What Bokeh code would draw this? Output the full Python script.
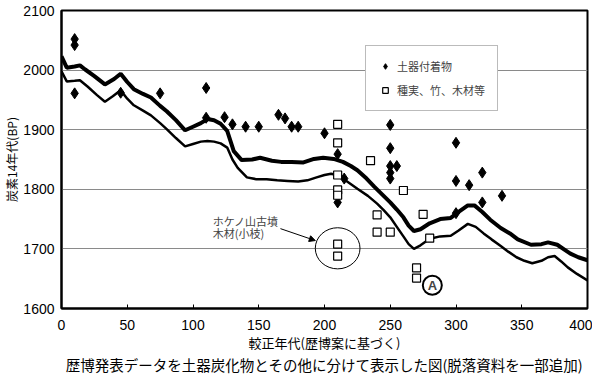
from bokeh.plotting import figure
from bokeh.models import (Range1d, FixedTicker, Legend, LegendItem, Arrow,
                          NormalHead, Label, Title)
from bokeh.embed import file_html
from bokeh.resources import INLINE

# ---- data ----
upper_x = [0, 4, 10, 14, 18, 25, 33, 40, 45, 50, 55, 62, 68, 75, 80, 87, 94, 100, 106, 111,
           116, 121, 126, 131, 137, 145, 151, 160, 167, 175, 184, 192, 199, 207, 214, 220,
           225, 232, 238, 244, 250, 255, 260, 264, 268, 273, 280, 288, 296, 302, 309, 314,
           320, 326, 334, 341, 347, 357, 365, 370, 377, 383, 387, 393, 400]
upper_y = [2023, 2004, 2006, 2008, 2001, 1990, 1976, 1985, 1994, 1980, 1968, 1960, 1954, 1940,
           1931, 1916, 1899, 1905, 1911, 1918, 1916, 1910, 1898, 1864, 1849, 1850, 1853, 1848,
           1846, 1846, 1845, 1851, 1853, 1851, 1846, 1839, 1832, 1818, 1804, 1791, 1778, 1766,
           1753, 1739, 1730, 1733, 1743, 1750, 1752, 1762, 1773, 1773, 1762, 1749, 1735, 1726,
           1716, 1707, 1708, 1711, 1707, 1698, 1692, 1686, 1681]

lower_x = [0, 4, 10, 14, 20, 27, 33, 39, 45, 50, 55, 62, 68, 75, 80, 87, 94, 100, 106, 111,
           116, 121, 126, 130, 134, 141, 148, 156, 164, 172, 180, 187, 194, 200, 205, 211, 218,
           225, 233, 240, 245, 250, 255, 260, 264, 268, 273, 280, 288, 296, 302, 309, 315, 321,
           327, 334, 340, 346, 352, 358, 365, 370, 375, 380, 385, 392, 400]
lower_y = [1998, 1981, 1982, 1983, 1972, 1958, 1947, 1956, 1966, 1952, 1941, 1932, 1924, 1911,
           1901, 1886, 1872, 1876, 1880, 1881, 1880, 1877, 1870, 1850, 1836, 1820, 1817, 1817,
           1815, 1814, 1813, 1815, 1820, 1824, 1826, 1823, 1812, 1801, 1789, 1776, 1765, 1753,
           1737, 1721, 1708, 1700, 1706, 1717, 1721, 1722, 1731, 1742, 1737, 1726, 1716, 1705,
           1695, 1686, 1680, 1676, 1680, 1686, 1688, 1679, 1669, 1658, 1647]

pottery_x = [10, 10, 10, 45, 75, 110, 110, 124, 130, 140, 150, 165, 170, 175, 180, 200, 210,
             215, 210, 250, 250, 250, 255, 250, 250, 300, 300, 310, 320, 320, 335, 300]
pottery_y = [2052, 2042, 1961, 1962, 1961, 1970, 1920, 1921, 1909, 1905, 1905, 1925, 1919,
             1905, 1905, 1894, 1859, 1818, 1778, 1908, 1869, 1839, 1839, 1828, 1818, 1878,
             1814, 1807, 1828, 1778, 1789, 1760]

other_x = [210, 210, 235, 210, 210, 210, 240, 240, 250, 260, 275, 280, 270, 270, 210, 210]
other_y = [1909, 1878, 1848, 1824, 1799, 1790, 1757, 1728, 1728, 1798, 1758, 1718, 1668,
           1651, 1708, 1688]

x_ticks = [0, 50, 100, 150, 200, 250, 300, 350, 400]
y_ticks = [1600, 1700, 1800, 1900, 2000, 2100]

legend_labels = ["土器付着物", "種実、竹、木材等"]
x_title = "較正年代(歴博案に基づく)"
y_title = "炭素14年代(BP)"
caption = "歴博発表データを土器炭化物とその他に分けて表示した図(脱落資料を一部追加)"
note_lines = ["ホケノ山古墳", "木材(小枝)"]

JP = "Noto Sans CJK JP"
NUM = "Liberation Sans"

p = figure(frame_width=526, frame_height=298, output_backend="svg", toolbar_location=None,
           x_range=Range1d(0, 400), y_range=Range1d(1600, 2100),
           min_border_left=61, min_border_right=5, min_border_top=10, min_border_bottom=66)
p.background_fill_color = "white"
p.border_fill_color = "white"
p.outline_line_color = "black"
p.outline_line_width = 2

p.xaxis.ticker = FixedTicker(ticks=x_ticks)
p.yaxis.ticker = FixedTicker(ticks=y_ticks)
p.xgrid.visible = False
p.ygrid.grid_line_color = "#8a8a8a"
p.ygrid.grid_line_width = 1

for ax in (p.xaxis[0], p.yaxis[0]):
    ax.axis_line_color = "black"
    ax.axis_line_width = 2
    ax.minor_tick_line_color = None
    ax.major_label_text_font = NUM
    ax.major_label_text_font_size = "14px"
    ax.major_label_text_color = "black"
    ax.axis_label_text_font = JP
    ax.axis_label_text_font_style = "normal"
    ax.axis_label_text_color = "black"
    ax.axis_label_text_font_size = "13px"

p.xaxis.major_tick_in = 4
p.xaxis.major_tick_out = 0
p.xaxis.major_tick_line_color = "black"
p.xaxis.major_label_standoff = 11
p.xaxis.axis_label = x_title
p.xaxis.axis_label_standoff = 0

p.yaxis.major_tick_in = 0
p.yaxis.major_tick_out = 0
p.yaxis.major_label_standoff = 7
p.yaxis.axis_label = y_title
p.yaxis.axis_label_standoff = 0
p.yaxis.axis_label_text_font_size = "12px"

cap = Title(text=caption, align="center", text_font=JP, text_font_size="14.5px",
            text_font_style="normal", text_color="black", standoff=-5)
p.add_layout(cap, "below")

# calibration curves
p.line(upper_x, upper_y, line_color="black", line_width=4)
p.line(lower_x, lower_y, line_color="black", line_width=2.5)

r1 = p.scatter(pottery_x, pottery_y, marker="diamond", size=11, fill_color="black",
               line_color="black")
r2 = p.scatter(other_x, other_y, marker="square", size=8, fill_color="white",
               line_color="black", line_width=1.2)

legend = Legend(items=[LegendItem(label=legend_labels[0], renderers=[r1]),
                       LegendItem(label=legend_labels[1], renderers=[r2])],
                location=(304, 197), padding=12, spacing=8, glyph_width=14,
                glyph_height=16, label_height=16, label_standoff=5,
                label_text_font=JP, label_text_font_size="11px",
                border_line_color="#777777", border_line_width=1.5,
                background_fill_color="white", background_fill_alpha=1, margin=0)
p.add_layout(legend)

# annotation: circle around Hokenoyama samples
p.ellipse(x=[210], y=[1701], width=[34], height=[69], fill_color=None,
          line_color="black", line_width=1)
p.add_layout(Arrow(end=NormalHead(size=6, fill_color="black", line_color="black"),
                   x_start=166.5, y_start=1734, x_end=193, y_end=1714,
                   line_color="black", line_width=1))
p.add_layout(Label(x=115, y=1747, text=note_lines[0], text_font=JP,
                   text_font_size="11px", text_baseline="middle"))
p.add_layout(Label(x=115, y=1727, text=note_lines[1], text_font=JP,
                   text_font_size="11px", text_baseline="middle"))

# circled A
p.scatter([282], [1639], marker="circle", size=19, fill_color="white",
          line_color="black", line_width=2)
p.add_layout(Label(x=282, y=1639, text="A", text_font=NUM, text_font_size="13px",
                   text_font_style="bold", text_align="center", text_baseline="middle"))

open("out.html", "w").write(file_html(p, INLINE))
